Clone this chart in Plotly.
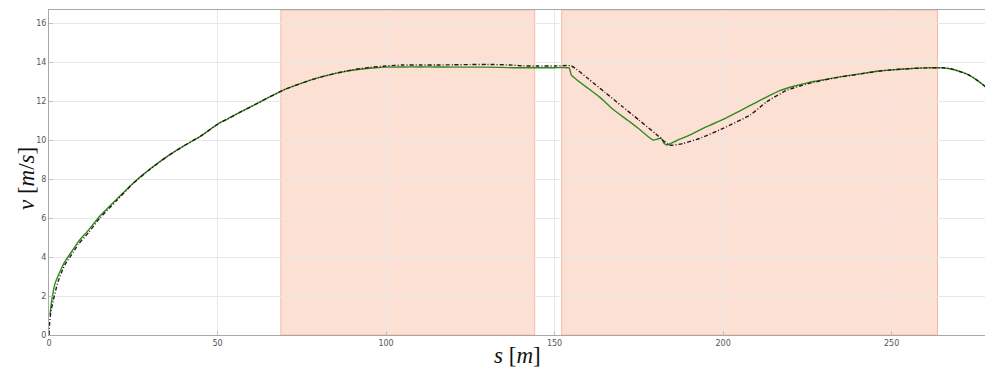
import plotly.graph_objects as go

# Reference (black dash-dot) profile
s_ref = [0, 0.15, 0.4, 0.8, 1.3, 2.0, 2.8, 3.8, 4.7, 6.7, 8.7, 11.7, 15.1, 20, 25, 30, 35, 40, 45,
         50.7, 53, 56.6, 60, 65, 70, 75, 80, 85, 90, 95, 100, 105, 110, 115, 120, 125, 130, 136.7,
         140.7, 145, 150, 155, 160, 165, 170, 175, 180, 184.1, 188, 193, 200, 208, 213, 219, 225,
         230, 235, 240, 246, 250, 255, 260, 265, 268, 271, 273, 275, 277, 278]
v_ref = [0, 0.5, 1.0, 1.4, 1.8, 2.3, 2.8, 3.25, 3.6, 4.12, 4.65, 5.25, 6.0, 6.88, 7.78, 8.5, 9.15,
         9.7, 10.2, 10.89, 11.08, 11.42, 11.72, 12.17, 12.6, 12.92, 13.2, 13.42, 13.6, 13.72,
         13.8, 13.85, 13.85, 13.85, 13.86, 13.87, 13.88, 13.85, 13.8, 13.8, 13.8, 13.8, 13.14,
         12.44, 11.73, 11.03, 10.32, 9.74, 9.82, 10.08, 10.6, 11.28, 11.97, 12.56, 12.88, 13.08,
         13.24, 13.37, 13.53, 13.6, 13.66, 13.7, 13.71, 13.64, 13.47, 13.33, 13.11, 12.85, 12.72]

# Measured (green) profile
s_meas = [0.3, 0.6, 1.0, 1.8, 2.8, 3.8, 4.7, 6.7, 8.7, 11.7, 15.1, 20, 25, 30, 35, 40, 45, 50.7, 53,
          56.6, 60, 65, 70, 75, 80, 85, 90, 95, 100, 105, 110, 115, 120, 125, 130, 137.6, 140,
          145, 150, 154.3, 155, 160, 163.4, 167.3, 171.8, 175, 179.2, 180.5, 181.6, 182.5, 183.4,
          186, 190, 193, 196, 200, 205, 210, 213, 217, 221, 225.6, 230, 235, 240, 246, 250, 255,
          260, 265, 268, 271, 273, 275, 277, 278]
v_meas = [1.03, 1.5, 1.97, 2.65, 3.08, 3.45, 3.76, 4.27, 4.79, 5.38, 6.1, 6.95, 7.8, 8.52, 9.15, 9.7,
          10.2, 10.89, 11.08, 11.42, 11.72, 12.17, 12.6, 12.92, 13.2, 13.42, 13.58, 13.68, 13.74,
          13.75, 13.75, 13.75, 13.74, 13.74, 13.74, 13.71, 13.71, 13.71, 13.71, 13.7, 13.33, 12.64,
          12.2, 11.58, 11.0, 10.58, 10.0, 10.05, 10.1, 9.83, 9.74, 9.95, 10.25, 10.51, 10.75,
          11.06, 11.5, 11.95, 12.22, 12.55, 12.76, 12.96, 13.1, 13.25, 13.38, 13.54, 13.6, 13.66,
          13.7, 13.7, 13.63, 13.47, 13.33, 13.11, 12.85, 12.72]

# Shaded segments
seg_start = [68.8, 152.1]
seg_end = [144.1, 263.6]

x_ticks = [0, 50, 100, 150, 200, 250]
y_ticks = [0, 2, 4, 6, 8, 10, 12, 14, 16]

fig = go.Figure()
fig.add_trace(go.Scatter(x=s_meas, y=v_meas, mode="lines",
                         line=dict(color="#2f8a1c", width=1.4, shape="spline", smoothing=0.5),
                         showlegend=False))
fig.add_trace(go.Scatter(x=s_ref, y=v_ref, mode="lines",
                         line=dict(color="#2a1818", width=1.4, dash="4px,2px,1px,2px",
                                   shape="spline", smoothing=0.5),
                         showlegend=False))

for a, b in zip(seg_start, seg_end):
    fig.add_shape(type="rect", xref="x", yref="paper", x0=a, x1=b, y0=0, y1=1,
                  fillcolor="#fde0d4", line=dict(color="#f5b9a5", width=1), layer="below")

fig.update_layout(
    width=985, height=369,
    margin=dict(l=49, r=0, t=10, b=34),
    paper_bgcolor="white", plot_bgcolor="rgba(0,0,0,0)",
    font=dict(family="DejaVu Sans", size=8, color="#555"),
)
fig.update_xaxes(range=[0, 277.7], tickvals=x_ticks, showgrid=True, gridcolor="#e8e8e8",
                 zeroline=False, showline=True, linecolor="#a8a8a8", mirror=True,
                 ticks="inside", ticklen=4, tickcolor="#c0c0c0", tickfont=dict(size=8, color="#555"))
fig.update_yaxes(range=[0, 16.67], tickvals=y_ticks, showgrid=True, gridcolor="#e8e8e8",
                 zeroline=False, showline=True, linecolor="#a8a8a8", mirror=True,
                 ticks="inside", ticklen=4, tickcolor="#c0c0c0", tickfont=dict(size=8, color="#555"))

fig.add_annotation(text="<i>v</i> [<i>m</i>/<i>s</i>]", xref="paper", yref="paper",
                   x=-0.0245, y=0.48, xanchor="center", yanchor="middle", textangle=-90,
                   showarrow=False, font=dict(family="Liberation Serif", size=23, color="#111"))
fig.add_annotation(text="<i>s</i> [<i>m</i>]", xref="paper", yref="paper",
                   x=0.5, y=-0.062, xanchor="center", yanchor="middle",
                   showarrow=False, font=dict(family="Liberation Serif", size=23, color="#111"))

fig.write_html("out.html")
